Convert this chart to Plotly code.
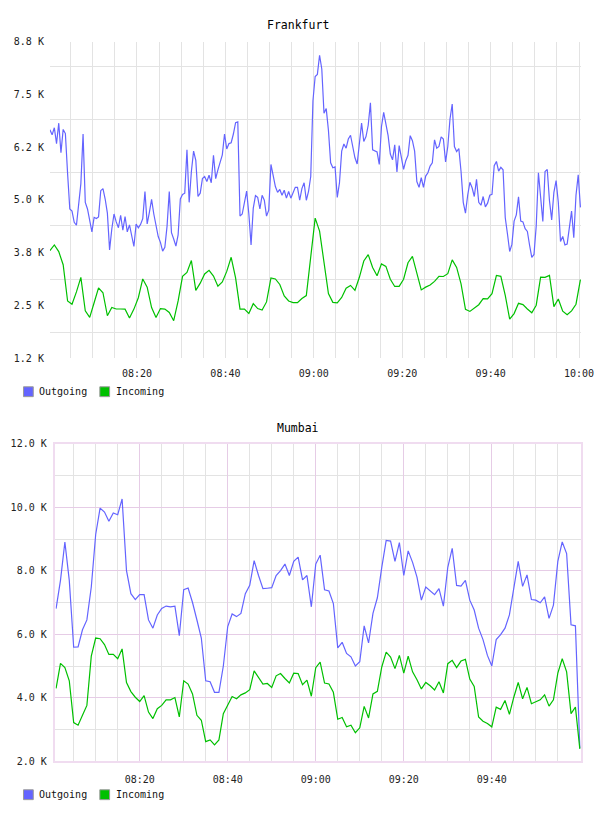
import plotly.graph_objects as go
import pandas as pd

DAY = "2024-01-01 "

# ---------------- data ----------------
# Frankfurt outgoing, one sample every 30 s from 08:00:18
fra_out = [6680,6560,6730,6350,6840,6130,6690,6590,5630,4780,
           4730,4460,4390,4940,5390,6580,4940,4780,4480,4230,
           4580,4550,4590,5220,5270,5020,4680,3800,4300,4660,
           4470,4330,4630,4270,4600,4230,4400,4140,3880,4420,
           4330,4410,4550,5200,4420,4700,5010,4660,4350,4120,
           3980,3770,3860,4370,5200,4210,4060,3890,4160,5020,
           5130,5160,6200,4940,5680,6170,5950,5080,5160,5510,
           5560,5440,5590,5410,6070,5510,5720,5920,6080,6580,
           6220,6350,6370,6580,6850,6870,4610,4660,4900,5210,
           4660,3920,4800,5100,5060,4780,5110,4990,4610,4750,
           5850,5580,5320,5180,5250,5110,5230,5040,5200,5040,
           5150,5300,5300,4990,5270,5410,4990,5200,5560,7380,
           7960,8010,8470,8140,7080,7190,6670,5890,5770,5790,
           5060,5410,6170,6340,6240,6460,6550,6240,6010,5860,
           6360,6840,6400,6520,6790,7330,6200,6170,6150,5850,
           6760,7100,6840,6540,6100,5960,6320,5670,6300,5970,
           5730,5940,6070,6540,6420,6170,5440,5300,5530,5300,
           5570,5650,5810,5890,6440,6240,6280,6510,6460,5910,
           6280,6940,7300,6280,6160,6230,5680,4940,4680,5110,
           5420,5290,5080,5490,4940,4870,5080,4830,4920,5110,
           5130,5820,5920,5690,5780,5720,4570,4180,3760,3930,
           4490,4640,5070,4490,4470,4310,4240,3910,3620,3690,
           4370,5650,5010,4480,5680,5730,4980,4520,5180,5460,
           4940,4000,4120,3920,3940,4350,4730,4090,5110,5600,
           4820]

# Frankfurt incoming, one sample every minute from 08:00:18
fra_in = [3781,3916,3757,3442,2573,2495,2790,3141,2336,2178,
          2530,2888,2770,2218,2415,2380,2380,2377,2164,2377,
          2650,3101,2905,2415,2178,2391,2377,2296,2100,2573,
          3165,3260,3544,2827,3000,3220,3307,3170,2928,3030,
          3283,3622,3125,2377,2377,2273,2509,2391,2353,2550,
          3125,3101,2969,2692,2573,2533,2533,2632,2703,3700,
          4560,4250,3500,2750,2540,2526,2656,2881,2945,2829,
          3141,3532,3686,3378,3177,3463,3402,3094,2921,2925,
          3094,3490,3643,3260,2838,2905,2955,3044,3165,3160,
          3227,3560,3378,2985,2374,2322,2403,2483,2628,2623,
          2748,3186,3165,2706,2135,2270,2516,2485,2380,2289,
          2471,3144,3140,3188,2438,2620,2327,2242,2336,2495,3087]

# Mumbai, one sample every minute from 08:01
mum_out = [6810,7700,8907,7696,5593,5603,6143,6453,7488,9143,
           9972,9848,9559,9817,9764,10261,8006,7279,7093,7248,
           7248,6453,6193,6609,6814,6888,6866,6888,5956,7404,
           7457,7000,6450,5882,4537,4506,4174,4174,5003,6245,
           6640,6556,6658,7279,7540,8317,7851,7435,7450,7467,
           7851,8006,8211,7851,8295,8430,7714,7851,6866,8211,
           8491,7404,7363,6969,5571,5748,5397,5292,5003,5137,
           6267,5727,6658,7150,8109,8957,8936,8295,8885,7851,
           8627,8264,7798,7075,7488,7370,7248,7435,6888,8109,
           8708,7540,7519,7696,7075,6764,6193,5832,5335,5003,
           5832,5988,6193,6609,7500,8295,7508,7870,7093,7075,
           6991,7177,6503,6919,8295,8907,8543,6298,6267,2416]

mum_in = [4298,5087,4950,4537,3223,3140,3450,3761,5314,5882,
          5862,5677,5366,5366,5230,5540,4484,4196,4019,3885,
          4071,3553,3348,3658,3761,3938,3938,4009,3397,4537,
          4435,4124,3450,3295,2621,2674,2519,2674,3503,3761,
          4040,3969,4093,4155,4258,4848,4640,4435,4453,4329,
          4693,4764,4609,4466,4776,4764,4413,4559,4050,4950,
          5127,4466,4435,4174,3326,3379,3087,3140,2901,3056,
          3730,3366,4124,4205,4972,5438,5283,4919,5335,4776,
          5314,4817,4568,4280,4484,4382,4248,4506,4155,5075,
          5180,4950,5158,5210,4590,4360,3397,3264,3192,3087,
          3708,3637,3916,3481,4019,4484,3969,4329,3814,3866,
          3938,4093,3739,3938,4776,5230,4817,3503,3708,2394]

fra_start = DAY + "08:00:18"
mum_start = DAY + "08:01:00"

series_names = ["Outgoing", "Incoming"]
fra_ytickvals = [8800, 7533.3, 6266.7, 5000, 3733.3, 2466.7, 1200]
fra_yticktext = ["8.8 K", "7.5 K", "6.2 K", "5.0 K", "3.8 K", "2.5 K", "1.2 K"]
fra_ygrid = [1816, 3094, 4373, 5651, 6929, 8207]
mum_ytickvals = [2000, 4000, 6000, 8000, 10000, 12000]
mum_yticktext = ["2.0 K", "4.0 K", "6.0 K", "8.0 K", "10.0 K", "12.0 K"]
mum_ygrid = [3000, 5000, 7000, 9000, 11000]
fra_xticks = ["08:20", "08:40", "09:00", "09:20", "09:40", "10:00"]
mum_xticks = ["08:20", "08:40", "09:00", "09:20", "09:40"]

# ---------------- build ----------------
fra_t_out = pd.date_range(fra_start, periods=len(fra_out), freq="30s")
fra_t_in = pd.date_range(fra_start, periods=len(fra_in), freq="60s")
mum_t = pd.date_range(mum_start, periods=len(mum_out), freq="60s")

W, H = 608, 816
def fx(p):
    return p / W
def fy(p):
    return 1 - p / H

BLUE = "#6464ff"
GREEN = "#00c000"
COLORS = [BLUE, GREEN]
FONT = "DejaVu Sans Mono"
GRID = "#e3e3e3"
PINK = "#e6cce6"
FRAME = "#f0dcf0"

fig = go.Figure()
fig.add_trace(go.Scatter(x=fra_t_out, y=fra_out, mode="lines", name="Outgoing",
                         line=dict(color=BLUE, width=1.2), xaxis="x", yaxis="y", showlegend=False))
fig.add_trace(go.Scatter(x=fra_t_in, y=fra_in, mode="lines", name="Incoming",
                         line=dict(color=GREEN, width=1.2), xaxis="x", yaxis="y", showlegend=False))
fig.add_trace(go.Scatter(x=mum_t, y=mum_out, mode="lines", name="Outgoing",
                         line=dict(color=BLUE, width=1.2), xaxis="x2", yaxis="y2", showlegend=False))
fig.add_trace(go.Scatter(x=mum_t, y=mum_in, mode="lines", name="Incoming",
                         line=dict(color=GREEN, width=1.2), xaxis="x2", yaxis="y2", showlegend=False))

fra_major = [DAY + t for t in fra_xticks]
mum_major = [DAY + t for t in mum_xticks]
fra_minor = list(pd.date_range(DAY + "08:05", DAY + "10:00", freq="5min"))
mum_minor = list(pd.date_range(DAY + "08:05", DAY + "09:55", freq="5min"))

tickfont = dict(family=FONT, size=10, color="#222222")

# legend swatches + labels (one legend row under each chart)
shapes = []
annotations = [
    dict(text="Frankfurt", x=0.5, y=fy(20.5), xref="paper", yref="paper",
         showarrow=False, xanchor="center", yanchor="middle",
         font=dict(family=FONT, size=11.5, color="#000000")),
    dict(text="Mumbai", x=0.5, y=fy(429), xref="paper", yref="paper",
         showarrow=False, xanchor="center", yanchor="middle",
         font=dict(family=FONT, size=11.5, color="#000000")),
]
for row_y in [392, 800.5]:
    for i, (nm, col) in enumerate(zip(series_names, COLORS)):
        x0 = 24 + 78 * i
        shapes.append(dict(type="rect", xref="paper", yref="paper",
                           x0=fx(x0), x1=fx(x0 + 10), y0=fy(row_y + 5), y1=fy(row_y - 5),
                           fillcolor=col, line=dict(color="#9a9a9a", width=1)))
        annotations.append(dict(text=nm, x=fx(x0 + 14), y=fy(row_y), xref="paper", yref="paper",
                                showarrow=False, xanchor="left", yanchor="middle",
                                font=dict(family=FONT, size=10, color="#111111")))

fig.update_layout(
    width=W, height=H,
    margin=dict(l=0, r=0, t=0, b=0),
    paper_bgcolor="white", plot_bgcolor="white",
    showlegend=False,
    xaxis=dict(domain=[fx(51), fx(594)], anchor="y", type="date",
               range=[DAY + "08:00:18", DAY + "10:00:30"],
               tickmode="array", tickvals=fra_major, ticktext=fra_xticks,
               showgrid=True, gridcolor=GRID, gridwidth=1,
               minor=dict(tickmode="array", tickvals=fra_minor, showgrid=True, gridcolor=GRID),
               zeroline=False, showline=False, ticks="", tickfont=tickfont,
               ticklabelstandoff=8),
    yaxis=dict(domain=[fy(358), fy(37)], anchor="x", range=[1200, 8800],
               tickmode="array", tickvals=fra_ytickvals, ticktext=fra_yticktext,
               showgrid=False,
               minor=dict(tickmode="array", tickvals=fra_ygrid, showgrid=True, gridcolor=GRID),
               zeroline=False, showline=False, ticks="", tickfont=tickfont,
               ticklabelstandoff=5),
    xaxis2=dict(domain=[fx(56.7), fx(594)], anchor="y2", type="date",
                range=[DAY + "08:00:52", DAY + "10:00:20"],
                tickmode="array", tickvals=mum_major, ticktext=mum_xticks,
                showgrid=True, gridcolor=PINK, gridwidth=1,
                minor=dict(tickmode="array", tickvals=mum_minor, showgrid=True, gridcolor=GRID),
                zeroline=False, showline=True, linecolor=FRAME, linewidth=1.5, mirror=True,
                ticks="", tickfont=tickfont, ticklabelstandoff=8),
    yaxis2=dict(domain=[fy(766.7), fy(444.7)], anchor="x2", range=[2000, 12000],
                tickmode="array", tickvals=mum_ytickvals, ticktext=mum_yticktext,
                showgrid=True, gridcolor=PINK,
                minor=dict(tickmode="array", tickvals=mum_ygrid, showgrid=True, gridcolor=GRID),
                zeroline=False, showline=True, linecolor=FRAME, linewidth=1.5, mirror=True,
                ticks="", tickfont=tickfont, ticklabelstandoff=5),
    shapes=shapes,
    annotations=annotations,
)

fig.write_html("out.html")
